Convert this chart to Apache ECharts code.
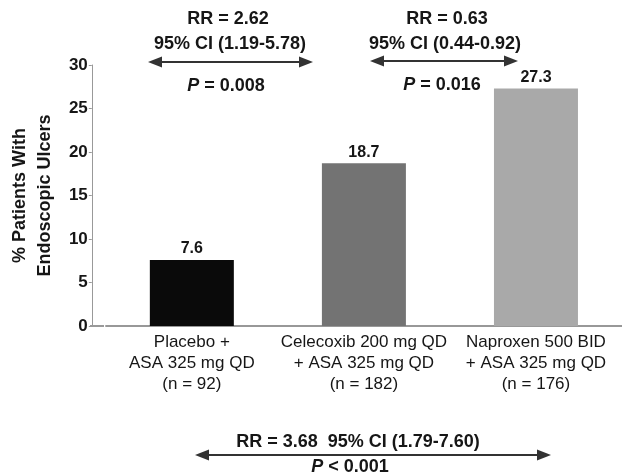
<!DOCTYPE html>
<html><head><meta charset="utf-8">
<script src="https://cdn.jsdelivr.net/npm/echarts@6/dist/echarts.min.js"></script>
<style>html,body{margin:0;padding:0;background:#fff}#c{width:622px;height:474px}</style>
</head><body><div id="c"></div>
<script>
const categories = ['Placebo +\nASA 325 mg QD\n(n = 92)', 'Celecoxib 200 mg QD\n+ ASA 325 mg QD\n(n = 182)', 'Naproxen 500 BID\n+ ASA 325 mg QD\n(n = 176)'];
const values = [7.6, 18.7, 27.3];
const barColors = ['#0a0a0a', '#737373', '#a9a9a9'];
const yTicks = [0, 5, 10, 15, 20, 25, 30];
const yName = '% Patients With\nEndoscopic Ulcers';
const note1 = ['RR = 2.62', '95% CI (1.19-5.78)', '{i|P} = 0.008'];
const note2 = ['RR = 0.63', '95% CI (0.44-0.92)', '{i|P} = 0.016'];
const note3 = ['RR = 3.68  95% CI (1.79-7.60)', '{i|P} < 0.001'];

const FONT = 'Liberation Sans, Arial, sans-serif';
const TXT = '#161616';
const chart = echarts.init(document.getElementById('c'));
function txt(x, y, s) {
  return {type:'text', x:x, y:y, style:{text:s, fontFamily:FONT, fontSize:18, fontWeight:'bold', fill:TXT,
    align:'center', verticalAlign:'middle',
    rich:{i:{fontStyle:'italic', fontFamily:FONT, fontSize:18, fontWeight:'bold', fill:TXT}}}};
}
function arrow(x1, x2, y) {
  return {type:'group', children:[
    {type:'line', shape:{x1:x1+8, y1:y, x2:x2-8, y2:y}, style:{stroke:'#333', lineWidth:2.2}},
    {type:'polygon', shape:{points:[[x1,y],[x1+14,y-5.5],[x1+14,y+5.5]]}, style:{fill:'#333'}},
    {type:'polygon', shape:{points:[[x2,y],[x2-14,y-5.5],[x2-14,y+5.5]]}, style:{fill:'#333'}}
  ]};
}
chart.setOption({
  animation:false,
  grid:{left:104, right:0, top:65, bottom:148},
  xAxis:{type:'category', data:categories,
    axisLine:{lineStyle:{color:'#777', width:1.5}}, axisTick:{show:false},
    axisLabel:{color:TXT, fontFamily:FONT, fontSize:17, lineHeight:21, margin:6, interval:0}},
  yAxis:{type:'value', min:0, max:30, interval:5, offset:14,
    axisLine:{show:true, lineStyle:{color:'#999', width:1}},
    axisTick:{show:true, length:3, lineStyle:{color:'#999'}},
    splitLine:{show:false},
    axisLabel:{color:TXT, fontFamily:FONT, fontSize:17, fontWeight:'bold', margin:4,
      formatter:v => yTicks.includes(v) ? String(v) : ''},
    name:yName, nameLocation:'middle', nameGap:31, nameRotate:90,
    nameTextStyle:{color:TXT, fontFamily:FONT, fontSize:18, fontWeight:'bold', lineHeight:25}},
  series:[{type:'bar', barWidth:84,
    data:values.map((v,i)=>({value:v, itemStyle:{color:barColors[i]}})),
    label:{show:true, position:'top', distance:3, color:TXT, fontFamily:FONT, fontSize:16, fontWeight:'bold'}}],
  graphic:[
    txt(228, 19, note1[0]), txt(230, 44, note1[1]), arrow(148, 313, 62), txt(226, 86, note1[2]),
    txt(447, 19, note2[0]), txt(445, 44, note2[1]), arrow(370, 518, 61), txt(442, 85, note2[2]),
    txt(358, 442, note3[0]), arrow(195, 551, 455), txt(350, 467, note3[1]),
    {type:'line', shape:{x1:90, y1:326, x2:104, y2:326}, style:{stroke:'#777', lineWidth:1.5}}
  ]
});
</script></body></html>
